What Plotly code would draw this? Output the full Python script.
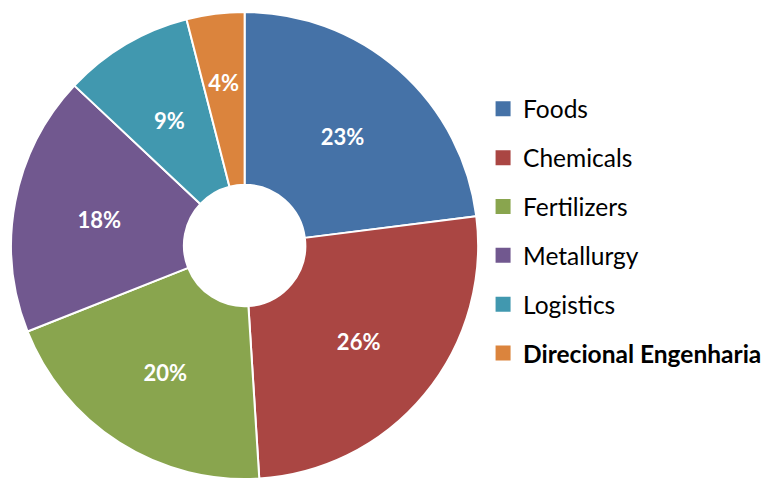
import plotly.graph_objects as go

categories = ["Foods", "Chemicals", "Fertilizers", "Metallurgy", "Logistics", "Direcional Engenharia"]
shares = [23, 26, 20, 18, 9, 4]
colors = ["#4572A7", "#AA4643", "#89A54E", "#71588F", "#4198AF", "#DB843D"]
bold_flags = [False, False, False, False, False, True]
FONT = "Lato"

fig = go.Figure()
# coloured donut (no text)
fig.add_trace(go.Pie(
    labels=categories,
    values=shares,
    sort=False,
    direction="clockwise",
    rotation=0,
    hole=0.26,
    marker=dict(colors=colors, line=dict(color="white", width=2)),
    textinfo="none",
    showlegend=False,
    hoverinfo="label+percent",
    domain=dict(x=[0.011, 0.626], y=[0.0, 0.975]),
))
# transparent overlay ring that carries the percentage labels at mid-ring radius
fig.add_trace(go.Pie(
    labels=categories,
    values=shares,
    sort=False,
    direction="clockwise",
    rotation=0,
    hole=0.579,
    marker=dict(colors=["rgba(0,0,0,0)"] * len(shares), line=dict(width=0)),
    texttemplate="%{value}%",
    textposition="inside",
    insidetextorientation="horizontal",
    textfont=dict(family=FONT, size=22, color="white", weight="bold"),
    showlegend=False,
    hoverinfo="skip",
    domain=dict(x=[0.0744, 0.5626], y=[0.092, 0.875]),
))

for name, col, b in zip(categories, colors, bold_flags):
    fig.add_trace(go.Scatter(
        x=[None], y=[None], mode="markers",
        name=f"<b>{name}</b>" if b else name,
        marker=dict(symbol="square", size=15, color=col),
        legendgroup=name,
    ))

fig.update_layout(
    width=768, height=479,
    margin=dict(l=0, r=0, t=0, b=0),
    paper_bgcolor="white", plot_bgcolor="white",
    xaxis=dict(visible=False), yaxis=dict(visible=False),
    legend=dict(
        x=0.629, y=0.517, xanchor="left", yanchor="middle",
        font=dict(family=FONT, size=24.5, color="black"),
        tracegroupgap=14,
        itemwidth=30,
        bgcolor="rgba(0,0,0,0)",
    ),
    font=dict(family=FONT),
)

fig.write_html("out.html")
